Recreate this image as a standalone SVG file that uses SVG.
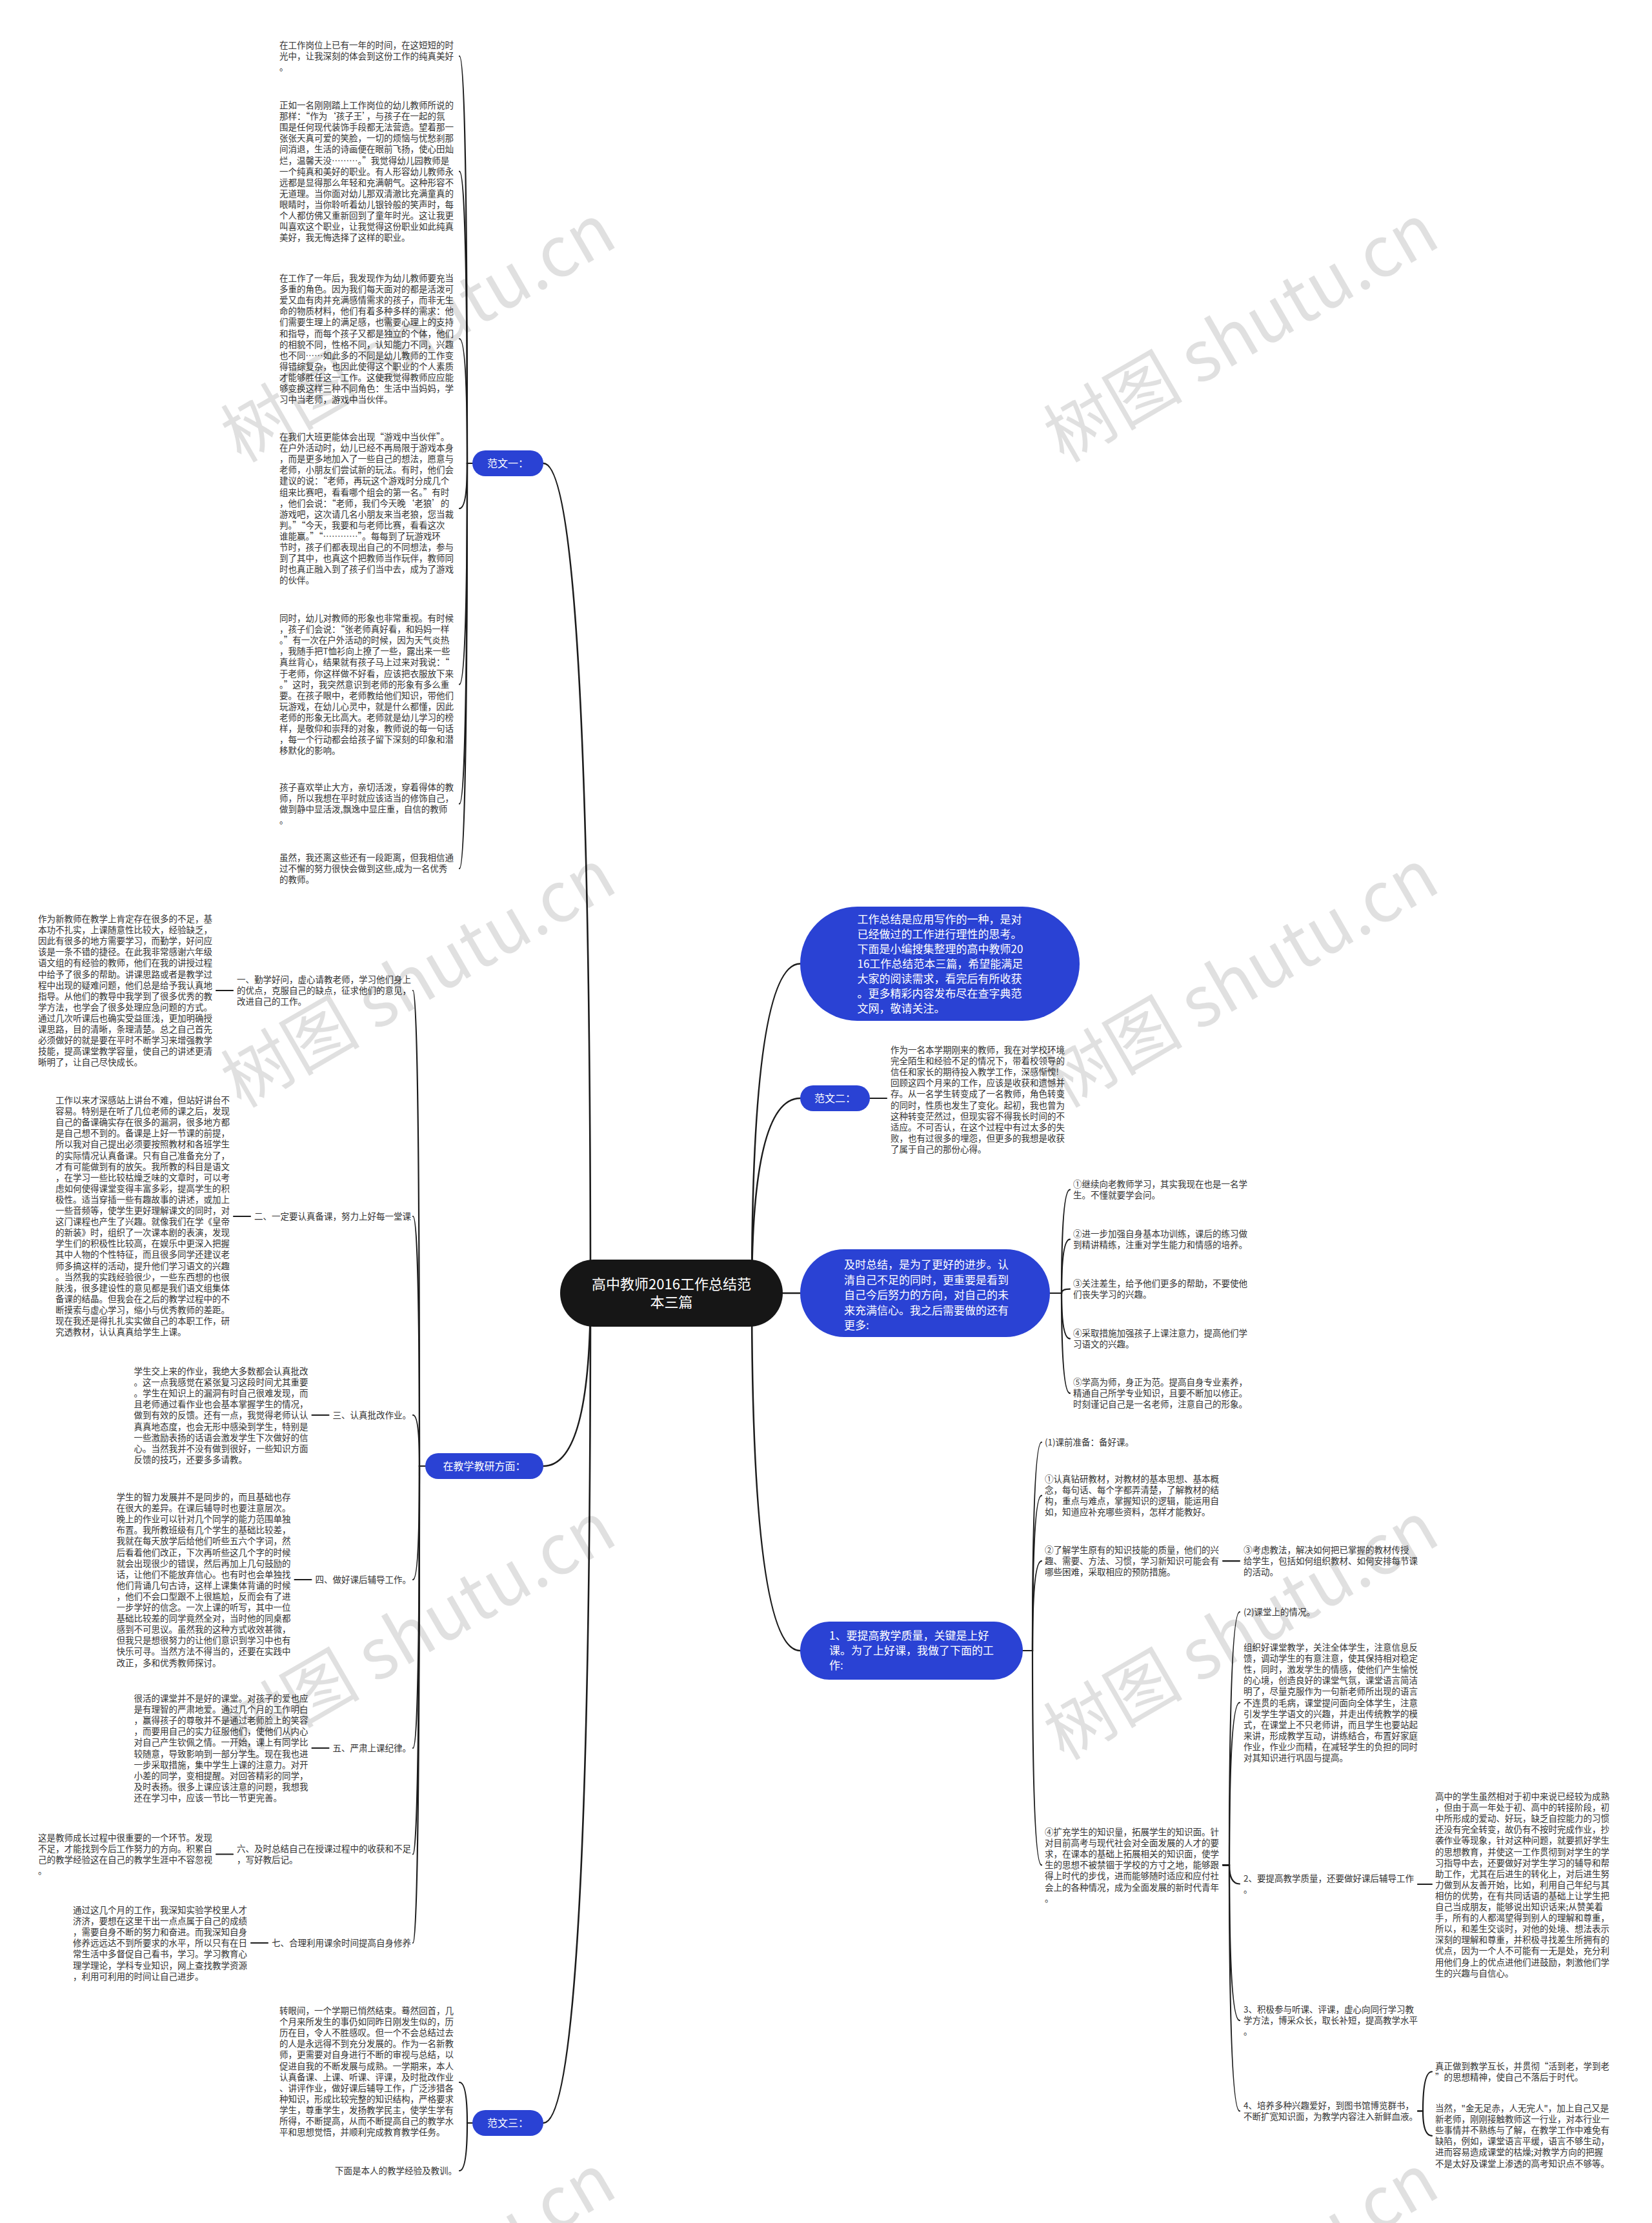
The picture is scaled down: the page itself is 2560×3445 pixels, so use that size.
<svg xmlns="http://www.w3.org/2000/svg" width="2560" height="3445" viewBox="0 0 2560 3445">
<style>
.t{font-family:"Noto Sans CJK SC","Noto Sans",sans-serif;font-size:13.5px;fill:#333}
.w{font-family:"Noto Sans CJK SC","Noto Sans",sans-serif;fill:#fff}
.c{fill:none;stroke:#1c1c1c;stroke-width:2.2;stroke-linecap:round}
.c2{fill:none;stroke:#1c1c1c;stroke-width:2.6;stroke-linecap:round}
.b{fill:#2a42d4}
.wm{font-family:"Noto Sans CJK SC","Noto Sans",sans-serif;font-size:108px;fill:#000;fill-opacity:.12}
</style>
<rect width="2560" height="3445" fill="#fff"/>
<g id="connectors">
<path class="c2" d="M915 2004 Q915 718 842 718"/>
<path class="c2" d="M915 2004 Q915 2272 842 2272"/>
<path class="c2" d="M915 2004 Q915 3290 842 3290"/>
<path class="c2" d="M1165 2004 Q1165 1493.5 1240 1493.5"/>
<path class="c2" d="M1165 2004 Q1165 1702 1240 1702"/>
<path class="c2" d="M1165 2004 L1240 2004"/>
<path class="c2" d="M1165 2004 Q1165 2558 1240 2558"/>
<path class="c" d="M732 718 H724 Q724 87 712 87"/>
<path class="c" d="M732 718 H724 Q724 265.6 712 265.6"/>
<path class="c" d="M732 718 H724 Q724 525 712 525"/>
<path class="c" d="M732 718 H724 Q724 788 712 788"/>
<path class="c" d="M732 718 H724 Q724 1060.6 712 1060.6"/>
<path class="c" d="M732 718 H724 Q724 1245.7 712 1245.7"/>
<path class="c" d="M732 718 H724 Q724 1346 712 1346"/>
<path class="c" d="M732 3290 H724 Q724 3227 712 3227"/>
<path class="c" d="M732 3290 H724 Q724 3364 712 3364"/>
<path class="c" d="M659 2272 H650 Q650 1535 640 1535"/>
<path class="c" d="M659 2272 H650 Q650 1885 640 1885"/>
<path class="c" d="M659 2272 H650 Q650 2193 640 2193"/>
<path class="c" d="M659 2272 H650 Q650 2448 640 2448"/>
<path class="c" d="M659 2272 H650 Q650 2709 640 2709"/>
<path class="c" d="M659 2272 H650 Q650 2873.5 640 2873.5"/>
<path class="c" d="M659 2272 H650 Q650 3011 640 3011"/>
<path class="c" d="M335 1535 H361"/>
<path class="c" d="M362 1885 H388"/>
<path class="c" d="M483.5 2193 H509.5"/>
<path class="c" d="M456.5 2448 H482.5"/>
<path class="c" d="M483.5 2709 H509.5"/>
<path class="c" d="M335 2873.5 H361"/>
<path class="c" d="M389 3011 H415"/>
<path class="c" d="M1348 1702 H1374"/>
<path class="c" d="M1627 2004 H1645 Q1645 1843.6 1658 1843.6"/>
<path class="c" d="M1627 2004 H1645 Q1645 1920.6 1658 1920.6"/>
<path class="c" d="M1627 2004 H1645 Q1645 1997.6 1658 1997.6"/>
<path class="c" d="M1627 2004 H1645 Q1645 2074.6 1658 2074.6"/>
<path class="c" d="M1627 2004 H1645 Q1645 2159.1 1658 2159.1"/>
<path class="c" d="M1585 2558 H1600 Q1600 2235 1614 2235"/>
<path class="c" d="M1585 2558 H1600 Q1600 2317.7 1614 2317.7"/>
<path class="c" d="M1585 2558 H1600 Q1600 2419.1 1614 2419.1"/>
<path class="c" d="M1585 2558 H1600 Q1600 2890.3 1614 2890.3"/>
<path class="c" d="M1895 2419.1 H1921"/>
<path class="c" d="M1895 2890.3 H1905 Q1905 2498 1921 2498"/>
<path class="c" d="M1895 2890.3 H1905 Q1905 2638.5 1921 2638.5"/>
<path class="c" d="M1895 2890.3 H1905 Q1905 2919.5 1921 2919.5"/>
<path class="c" d="M1895 2890.3 H1905 Q1905 3131.1 1921 3131.1"/>
<path class="c" d="M1895 2890.3 H1905 Q1905 3271.5 1921 3271.5"/>
<path class="c" d="M2197 2920 H2219"/>
<path class="c" d="M2197 3271.5 H2205 Q2205 3210.5 2219 3210.5"/>
<path class="c" d="M2197 3271.5 H2205 Q2205 3309.8 2219 3309.8"/>
</g>
<g id="root">
<rect x="868" y="1952" width="345" height="104" rx="52" fill="#161616"/>
<text class="w" font-size="22" text-anchor="middle" x="1040.5" y="1998">高中教师2016工作总结范<tspan x="1040.5" dy="28">本三篇</tspan></text>
</g>
<g id="n-fanwen1">
<rect class="b" x="732" y="698" width="110" height="40" rx="20"/>
<text class="w" font-size="16" text-anchor="middle" x="787" y="724">范文一：</text>
</g>
<g id="n-jiaoxue">
<rect class="b" x="659" y="2252" width="183" height="40" rx="20"/>
<text class="w" font-size="16" text-anchor="middle" x="750.5" y="2278">在教学教研方面：</text>
</g>
<g id="n-fanwen3">
<rect class="b" x="732" y="3270" width="110" height="40" rx="20"/>
<text class="w" font-size="16" text-anchor="middle" x="787" y="3296">范文三：</text>
</g>
<g id="n-summary">
<rect class="b" x="1240" y="1405" width="433" height="177" rx="88.5"/>
<text class="w" font-size="17" x="1328.5" y="1431"><tspan x="1328.5">工作总结是应用写作的一种，是对</tspan><tspan x="1328.5" dy="23">已经做过的工作进行理性的思考。</tspan><tspan x="1328.5" dy="23">下面是小编搜集整理的高中教师20</tspan><tspan x="1328.5" dy="23">16工作总结范本三篇，希望能满足</tspan><tspan x="1328.5" dy="23">大家的阅读需求，看完后有所收获</tspan><tspan x="1328.5" dy="23">。更多精彩内容发布尽在查字典范</tspan><tspan x="1328.5" dy="23">文网，敬请关注。</tspan></text>
</g>
<g id="n-fanwen2">
<rect class="b" x="1240" y="1682" width="108" height="40" rx="20"/>
<text class="w" font-size="16" text-anchor="middle" x="1294" y="1708">范文二：</text>
</g>
<g id="n-jishi">
<rect class="b" x="1240" y="1936" width="387" height="136" rx="68"/>
<text class="w" font-size="17" x="1308" y="1966"><tspan x="1308">及时总结，是为了更好的进步。认</tspan><tspan x="1308" dy="23.5">清自己不足的同时，更重要是看到</tspan><tspan x="1308" dy="23.5">自己今后努力的方向，对自己的未</tspan><tspan x="1308" dy="23.5">来充满信心。我之后需要做的还有</tspan><tspan x="1308" dy="23.5">更多:</tspan></text>
</g>
<g id="n-tigao">
<rect class="b" x="1240" y="2513" width="345" height="90" rx="45"/>
<text class="w" font-size="17" x="1285" y="2541"><tspan x="1285">1、要提高教学质量，关键是上好</tspan><tspan x="1285" dy="23">课。为了上好课，我做了下面的工</tspan><tspan x="1285" dy="23">作:</tspan></text>
</g>
<g id="leaf-f1-1"><text class="t" x="433" y="75"><tspan x="433">在工作岗位上已有一年的时间，在这短短的时</tspan><tspan x="433" dy="17.1">光中，让我深刻的体会到这份工作的纯真美好</tspan><tspan x="433" dy="17.1">。</tspan></text></g>
<g id="leaf-f1-2"><text class="t" x="433" y="168"><tspan x="433">正如一名刚刚踏上工作岗位的幼儿教师所说的</tspan><tspan x="433" dy="17.1">那样：“作为‘孩子王’，与孩子在一起的氛</tspan><tspan x="433" dy="17.1">围是任何现代装饰手段都无法营造。望着那一</tspan><tspan x="433" dy="17.1">张张天真可爱的笑脸，一切的烦恼与忧愁刹那</tspan><tspan x="433" dy="17.1">间消退，生活的诗画便在眼前飞扬，使心田灿</tspan><tspan x="433" dy="17.1">烂，温馨天没………。”我觉得幼儿园教师是</tspan><tspan x="433" dy="17.1">一个纯真和美好的职业。有人形容幼儿教师永</tspan><tspan x="433" dy="17.1">远都是显得那么年轻和充满朝气。这种形容不</tspan><tspan x="433" dy="17.1">无道理。当你面对幼儿那双清澈比充满童真的</tspan><tspan x="433" dy="17.1">眼睛时，当你聆听着幼儿银铃般的笑声时，每</tspan><tspan x="433" dy="17.1">个人都仿佛又重新回到了童年时光。这让我更</tspan><tspan x="433" dy="17.1">叫喜欢这个职业，让我觉得这份职业如此纯真</tspan><tspan x="433" dy="17.1">美好，我无悔选择了这样的职业。</tspan></text></g>
<g id="leaf-f1-3"><text class="t" x="433" y="436"><tspan x="433">在工作了一年后，我发现作为幼儿教师要充当</tspan><tspan x="433" dy="17.1">多重的角色。因为我们每天面对的都是活泼可</tspan><tspan x="433" dy="17.1">爱又血有肉并充满感情需求的孩子，而非无生</tspan><tspan x="433" dy="17.1">命的物质材料，他们有着多种多样的需求：他</tspan><tspan x="433" dy="17.1">们需要生理上的满足感，也需要心理上的支持</tspan><tspan x="433" dy="17.1">和指导，而每个孩子又都是独立的个体，他们</tspan><tspan x="433" dy="17.1">的相貌不同，性格不同，认知能力不同，兴趣</tspan><tspan x="433" dy="17.1">也不同……如此多的不同是幼儿教师的工作变</tspan><tspan x="433" dy="17.1">得错综复杂，也因此使得这个职业的个人素质</tspan><tspan x="433" dy="17.1">才能够胜任这一工作。这使我觉得教师应应能</tspan><tspan x="433" dy="17.1">够变换这样三种不同角色：生活中当妈妈，学</tspan><tspan x="433" dy="17.1">习中当老师，游戏中当伙伴。</tspan></text></g>
<g id="leaf-f1-4"><text class="t" x="433" y="682"><tspan x="433">在我们大班更能体会出现“游戏中当伙伴”。</tspan><tspan x="433" dy="17.1">在户外活动时，幼儿已经不再局限于游戏本身</tspan><tspan x="433" dy="17.1">，而是更多地加入了一些自己的想法，愿意与</tspan><tspan x="433" dy="17.1">老师，小朋友们尝试新的玩法。有时，他们会</tspan><tspan x="433" dy="17.1">建议的说：“老师，再玩这个游戏时分成几个</tspan><tspan x="433" dy="17.1">组来比赛吧，看看哪个组会的第一名。”有时</tspan><tspan x="433" dy="17.1">，他们会说：“老师，我们今天晚‘老狼’的</tspan><tspan x="433" dy="17.1">游戏吧，这次请几名小朋友来当老狼，您当裁</tspan><tspan x="433" dy="17.1">判。”“今天，我要和与老师比赛，看看这次</tspan><tspan x="433" dy="17.1">谁能赢。”“…………”。每每到了玩游戏环</tspan><tspan x="433" dy="17.1">节时，孩子们都表现出自己的不同想法，参与</tspan><tspan x="433" dy="17.1">到了其中，也真这个把教师当作玩伴，教师同</tspan><tspan x="433" dy="17.1">时也真正融入到了孩子们当中去，成为了游戏</tspan><tspan x="433" dy="17.1">的伙伴。</tspan></text></g>
<g id="leaf-f1-5"><text class="t" x="433" y="963"><tspan x="433">同时，幼儿对教师的形象也非常重视。有时候</tspan><tspan x="433" dy="17.1">，孩子们会说：“张老师真好看，和妈妈一样</tspan><tspan x="433" dy="17.1">。”有一次在户外活动的时候，因为天气炎热</tspan><tspan x="433" dy="17.1">，我随手把T恤衫向上撩了一些，露出来一些</tspan><tspan x="433" dy="17.1">真丝背心，结果就有孩子马上过来对我说：“</tspan><tspan x="433" dy="17.1">于老师，你这样做不好看，应该把衣服放下来</tspan><tspan x="433" dy="17.1">。”这时，我突然意识到老师的形象有多么重</tspan><tspan x="433" dy="17.1">要。在孩子眼中，老师教给他们知识，带他们</tspan><tspan x="433" dy="17.1">玩游戏，在幼儿心灵中，就是什么都懂，因此</tspan><tspan x="433" dy="17.1">老师的形象无比高大。老师就是幼儿学习的榜</tspan><tspan x="433" dy="17.1">样，是敬仰和崇拜的对象，教师说的每一句话</tspan><tspan x="433" dy="17.1">，每一个行动都会给孩子留下深刻的印象和潜</tspan><tspan x="433" dy="17.1">移默化的影响。</tspan></text></g>
<g id="leaf-f1-6"><text class="t" x="433" y="1225"><tspan x="433">孩子喜欢举止大方，亲切活泼，穿着得体的教</tspan><tspan x="433" dy="17.1">师，所以我想在平时就应该适当的修饰自己，</tspan><tspan x="433" dy="17.1">做到静中显活泼,飘逸中显庄重，自信的教师</tspan><tspan x="433" dy="17.1">。</tspan></text></g>
<g id="leaf-f1-7"><text class="t" x="433" y="1334"><tspan x="433">虽然，我还离这些还有一段距离，但我相信通</tspan><tspan x="433" dy="17.1">过不懈的努力很快会做到这些,成为一名优秀</tspan><tspan x="433" dy="17.1">的教师。</tspan></text></g>
<g id="leaf-j1"><text class="t" x="59" y="1429"><tspan x="59">作为新教师在教学上肯定存在很多的不足，基</tspan><tspan x="59" dy="17.1">本功不扎实，上课随意性比较大，经验缺乏，</tspan><tspan x="59" dy="17.1">因此有很多的地方需要学习，而勤学，好问应</tspan><tspan x="59" dy="17.1">该是一条不错的捷径。在此我非常感谢六年级</tspan><tspan x="59" dy="17.1">语文组的有经验的教师，他们在我的讲授过程</tspan><tspan x="59" dy="17.1">中给予了很多的帮助。讲课思路或者是教学过</tspan><tspan x="59" dy="17.1">程中出现的疑难问题，他们总是给予我认真地</tspan><tspan x="59" dy="17.1">指导。从他们的教导中我学到了很多优秀的教</tspan><tspan x="59" dy="17.1">学方法，也学会了很多处理应急问题的方式。</tspan><tspan x="59" dy="17.1">通过几次听课后也确实受益匪浅，更加明确授</tspan><tspan x="59" dy="17.1">课思路，目的清晰，条理清楚。总之自己首先</tspan><tspan x="59" dy="17.1">必须做好的就是要在平时不断学习来增强教学</tspan><tspan x="59" dy="17.1">技能，提高课堂教学容量，使自己的讲述更清</tspan><tspan x="59" dy="17.1">晰明了，让自己尽快成长。</tspan></text></g>
<g id="label-j1"><text class="t" x="367" y="1523"><tspan x="367">一、勤学好问，虚心请教老师，学习他们身上</tspan><tspan x="367" dy="17.1">的优点，克服自己的缺点，征求他们的意见，</tspan><tspan x="367" dy="17.1">改进自己的工作。</tspan></text></g>
<g id="leaf-j2"><text class="t" x="86" y="1710"><tspan x="86">工作以来才深感站上讲台不难，但站好讲台不</tspan><tspan x="86" dy="17.1">容易。特别是在听了几位老师的课之后，发现</tspan><tspan x="86" dy="17.1">自己的备课确实存在很多的漏洞，很多地方都</tspan><tspan x="86" dy="17.1">是自己想不到的。备课是上好一节课的前提，</tspan><tspan x="86" dy="17.1">所以我对自己提出必须要按照教材和各班学生</tspan><tspan x="86" dy="17.1">的实际情况认真备课。只有自己准备充分了，</tspan><tspan x="86" dy="17.1">才有可能做到有的放矢。我所教的科目是语文</tspan><tspan x="86" dy="17.1">，在学习一些比较枯燥乏味的文章时，可以考</tspan><tspan x="86" dy="17.1">虑如何使得课堂变得丰富多彩，提高学生的积</tspan><tspan x="86" dy="17.1">极性。适当穿插一些有趣故事的讲述，或加上</tspan><tspan x="86" dy="17.1">一些音频等，使学生更好理解课文的同时，对</tspan><tspan x="86" dy="17.1">这门课程也产生了兴趣。就像我们在学《皇帝</tspan><tspan x="86" dy="17.1">的新装》时，组织了一次课本剧的表演，发现</tspan><tspan x="86" dy="17.1">学生们的积极性比较高，在娱乐中更深入把握</tspan><tspan x="86" dy="17.1">其中人物的个性特征，而且很多同学还建议老</tspan><tspan x="86" dy="17.1">师多搞这样的活动，提升他们学习语文的兴趣</tspan><tspan x="86" dy="17.1">。当然我的实践经验很少，一些东西想的也很</tspan><tspan x="86" dy="17.1">肤浅，很多建设性的意见都是我们语文组集体</tspan><tspan x="86" dy="17.1">备课的结晶。但我会在之后的教学过程中的不</tspan><tspan x="86" dy="17.1">断摸索与虚心学习，缩小与优秀教师的差距。</tspan><tspan x="86" dy="17.1">现在我还是得扎扎实实做自己的本职工作，研</tspan><tspan x="86" dy="17.1">究透教材，认认真真给学生上课。</tspan></text></g>
<g id="label-j2"><text class="t" x="394" y="1890">二、一定要认真备课，努力上好每一堂课</text></g>
<g id="leaf-j3"><text class="t" x="207.5" y="2130"><tspan x="207.5">学生交上来的作业，我绝大多数都会认真批改</tspan><tspan x="207.5" dy="17.1">。这一点我感觉在紧张复习这段时间尤其重要</tspan><tspan x="207.5" dy="17.1">。学生在知识上的漏洞有时自己很难发现，而</tspan><tspan x="207.5" dy="17.1">且老师通过看作业也会基本掌握学生的情况，</tspan><tspan x="207.5" dy="17.1">做到有效的反馈。还有一点，我觉得老师认认</tspan><tspan x="207.5" dy="17.1">真真地态度，也会无形中感染到学生，特别是</tspan><tspan x="207.5" dy="17.1">一些激励表扬的话语会激发学生下次做好的信</tspan><tspan x="207.5" dy="17.1">心。当然我并不没有做到很好，一些知识方面</tspan><tspan x="207.5" dy="17.1">反馈的技巧，还要多多请教。</tspan></text></g>
<g id="label-j3"><text class="t" x="515.5" y="2198">三、认真批改作业。</text></g>
<g id="leaf-j4"><text class="t" x="180.5" y="2325"><tspan x="180.5">学生的智力发展并不是同步的，而且基础也存</tspan><tspan x="180.5" dy="17.1">在很大的差异。在课后辅导时也要注意层次。</tspan><tspan x="180.5" dy="17.1">晚上的作业可以针对几个同学的能力范围单独</tspan><tspan x="180.5" dy="17.1">布置。我所教班级有几个学生的基础比较差，</tspan><tspan x="180.5" dy="17.1">我就在每天放学后给他们听些五六个字词，然</tspan><tspan x="180.5" dy="17.1">后看着他们改正，下次再听些这几个字的时候</tspan><tspan x="180.5" dy="17.1">就会出现很少的错误，然后再加上几句鼓励的</tspan><tspan x="180.5" dy="17.1">话，让他们不能放弃信心。也有时也会单独找</tspan><tspan x="180.5" dy="17.1">他们背诵几句古诗，这样上课集体背诵的时候</tspan><tspan x="180.5" dy="17.1">，他们不会口型跟不上很尴尬，反而会有了进</tspan><tspan x="180.5" dy="17.1">一步学好的信念。一次上课的听写，其中一位</tspan><tspan x="180.5" dy="17.1">基础比较差的同学竟然全对，当时他的同桌都</tspan><tspan x="180.5" dy="17.1">感到不可思议。虽然我的这种方式收效甚微，</tspan><tspan x="180.5" dy="17.1">但我只是想很努力的让他们意识到学习中也有</tspan><tspan x="180.5" dy="17.1">快乐可寻。当然方法不得当的，还要在实践中</tspan><tspan x="180.5" dy="17.1">改正，多和优秀教师探讨。</tspan></text></g>
<g id="label-j4"><text class="t" x="488.5" y="2453">四、做好课后辅导工作。</text></g>
<g id="leaf-j5"><text class="t" x="207.5" y="2637"><tspan x="207.5">很活的课堂并不是好的课堂。对孩子的爱也应</tspan><tspan x="207.5" dy="17.1">是有理智的严肃地爱。通过几个月的工作明白</tspan><tspan x="207.5" dy="17.1">，赢得孩子的尊敬并不是通过老师脸上的笑容</tspan><tspan x="207.5" dy="17.1">，而要用自己的实力征服他们，使他们从内心</tspan><tspan x="207.5" dy="17.1">对自己产生钦佩之情。一开始，课上有同学比</tspan><tspan x="207.5" dy="17.1">较随意，导致影响到一部分学生。现在我也进</tspan><tspan x="207.5" dy="17.1">一步采取措施，集中学生上课的注意力。对开</tspan><tspan x="207.5" dy="17.1">小差的同学，变相提醒。对回答精彩的同学，</tspan><tspan x="207.5" dy="17.1">及时表扬。很多上课应该注意的问题，我想我</tspan><tspan x="207.5" dy="17.1">还在学习中，应该一节比一节更完善。</tspan></text></g>
<g id="label-j5"><text class="t" x="515.5" y="2714">五、严肃上课纪律。</text></g>
<g id="leaf-j6"><text class="t" x="59" y="2853"><tspan x="59">这是教师成长过程中很重要的一个环节。发现</tspan><tspan x="59" dy="17.1">不足，才能找到今后工作努力的方向。积累自</tspan><tspan x="59" dy="17.1">己的教学经验这在自己的教学生涯中不容忽视</tspan><tspan x="59" dy="17.1">。</tspan></text></g>
<g id="label-j6"><text class="t" x="367" y="2870"><tspan x="367">六、及时总结自己在授课过程中的收获和不足</tspan><tspan x="367" dy="17.1">，写好教后记。</tspan></text></g>
<g id="leaf-j7"><text class="t" x="113" y="2965"><tspan x="113">通过这几个月的工作，我深知实验学校里人才</tspan><tspan x="113" dy="17.1">济济，要想在这里干出一点点属于自己的成绩</tspan><tspan x="113" dy="17.1">，需要自身不断的努力和奋进。而我深知自身</tspan><tspan x="113" dy="17.1">修养远远达不到所要求的水平，所以只有在日</tspan><tspan x="113" dy="17.1">常生活中多督促自己看书，学习。学习教育心</tspan><tspan x="113" dy="17.1">理学理论，学科专业知识，网上查找教学资源</tspan><tspan x="113" dy="17.1">，利用可利用的时间让自己进步。</tspan></text></g>
<g id="label-j7"><text class="t" x="421" y="3016">七、合理利用课余时间提高自身修养</text></g>
<g id="leaf-f3-1"><text class="t" x="433" y="3121"><tspan x="433">转眼间，一个学期已悄然结束。蓦然回首，几</tspan><tspan x="433" dy="17.1">个月来所发生的事仍如同昨日刚发生似的，历</tspan><tspan x="433" dy="17.1">历在目，令人不胜感叹。但一个不会总结过去</tspan><tspan x="433" dy="17.1">的人是永远得不到充分发展的。作为一名新教</tspan><tspan x="433" dy="17.1">师，更需要对自身进行不断的审视与总结，以</tspan><tspan x="433" dy="17.1">促进自我的不断发展与成熟。一学期来，本人</tspan><tspan x="433" dy="17.1">认真备课、上课、听课、评课，及时批改作业</tspan><tspan x="433" dy="17.1">、讲评作业，做好课后辅导工作，广泛涉猎各</tspan><tspan x="433" dy="17.1">种知识，形成比较完整的知识结构，严格要求</tspan><tspan x="433" dy="17.1">学生，尊重学生，发扬教学民主，使学生学有</tspan><tspan x="433" dy="17.1">所得，不断提高，从而不断提高自己的教学水</tspan><tspan x="433" dy="17.1">平和思想觉悟，并顺利完成教育教学任务。</tspan></text></g>
<g id="leaf-f3-2"><text class="t" x="519" y="3369">下面是本人的教学经验及教训。</text></g>
<g id="leaf-f2"><text class="t" x="1380" y="1632"><tspan x="1380">作为一名本学期刚来的教师，我在对学校环境</tspan><tspan x="1380" dy="17.1">完全陌生和经验不足的情况下，带着校领导的</tspan><tspan x="1380" dy="17.1">信任和家长的期待投入教学工作，深感惭愧!</tspan><tspan x="1380" dy="17.1">回顾这四个月来的工作，应该是收获和遗憾并</tspan><tspan x="1380" dy="17.1">存。从一名学生转变成了一名教师，角色转变</tspan><tspan x="1380" dy="17.1">的同时，性质也发生了变化。起初，我也曾为</tspan><tspan x="1380" dy="17.1">这种转变茫然过，但现实容不得我长时间的不</tspan><tspan x="1380" dy="17.1">适应。不可否认，在这个过程中有过太多的失</tspan><tspan x="1380" dy="17.1">败，也有过很多的埋怨，但更多的我想是收获</tspan><tspan x="1380" dy="17.1">了属于自己的那份心得。</tspan></text></g>
<g id="leaf-js1"><text class="t" x="1663" y="1840"><tspan x="1663">①继续向老教师学习，其实我现在也是一名学</tspan><tspan x="1663" dy="17.1">生。不懂就要学会问。</tspan></text></g>
<g id="leaf-js2"><text class="t" x="1663" y="1917"><tspan x="1663">②进一步加强自身基本功训练，课后的练习做</tspan><tspan x="1663" dy="17.1">到精讲精练，注重对学生能力和情感的培养。</tspan></text></g>
<g id="leaf-js3"><text class="t" x="1663" y="1994"><tspan x="1663">③关注差生，给予他们更多的帮助，不要使他</tspan><tspan x="1663" dy="17.1">们丧失学习的兴趣。</tspan></text></g>
<g id="leaf-js4"><text class="t" x="1663" y="2071"><tspan x="1663">④采取措施加强孩子上课注意力，提高他们学</tspan><tspan x="1663" dy="17.1">习语文的兴趣。</tspan></text></g>
<g id="leaf-js5"><text class="t" x="1663" y="2147"><tspan x="1663">⑤学高为师，身正为范。提高自身专业素养，</tspan><tspan x="1663" dy="17.1">精通自己所学专业知识，且要不断加以修正。</tspan><tspan x="1663" dy="17.1">时刻谨记自己是一名老师，注意自己的形象。</tspan></text></g>
<g id="leaf-tg1"><text class="t" x="1619" y="2240">(1)课前准备：备好课。</text></g>
<g id="leaf-tg2"><text class="t" x="1619" y="2297"><tspan x="1619">①认真钻研教材，对教材的基本思想、基本概</tspan><tspan x="1619" dy="17.1">念，每句话、每个字都弄清楚，了解教材的结</tspan><tspan x="1619" dy="17.1">构，重点与难点，掌握知识的逻辑，能运用自</tspan><tspan x="1619" dy="17.1">如，知道应补充哪些资料，怎样才能教好。</tspan></text></g>
<g id="leaf-tg3"><text class="t" x="1619" y="2407"><tspan x="1619">②了解学生原有的知识技能的质量，他们的兴</tspan><tspan x="1619" dy="17.1">趣、需要、方法、习惯，学习新知识可能会有</tspan><tspan x="1619" dy="17.1">哪些困难，采取相应的预防措施。</tspan></text></g>
<g id="leaf-tg3a"><text class="t" x="1927" y="2407"><tspan x="1927">③考虑教法，解决如何把已掌握的教材传授</tspan><tspan x="1927" dy="17.1">给学生，包括如何组织教材、如何安排每节课</tspan><tspan x="1927" dy="17.1">的活动。</tspan></text></g>
<g id="leaf-tg4"><text class="t" x="1619" y="2844"><tspan x="1619">④扩充学生的知识量，拓展学生的知识面。针</tspan><tspan x="1619" dy="17.1">对目前高考与现代社会对全面发展的人才的要</tspan><tspan x="1619" dy="17.1">求，在课本的基础上拓展相关的知识面，使学</tspan><tspan x="1619" dy="17.1">生的思想不被禁锢于学校的方寸之地，能够跟</tspan><tspan x="1619" dy="17.1">得上时代的步伐，进而能够随时适应和应付社</tspan><tspan x="1619" dy="17.1">会上的各种情况，成为全面发展的新时代青年</tspan><tspan x="1619" dy="17.1">。</tspan></text></g>
<g id="leaf-tg4a"><text class="t" x="1927" y="2503">(2)课堂上的情况。</text></g>
<g id="leaf-tg4b"><text class="t" x="1927" y="2558"><tspan x="1927">组织好课堂教学，关注全体学生，注意信息反</tspan><tspan x="1927" dy="17.1">馈，调动学生的有意注意，使其保持相对稳定</tspan><tspan x="1927" dy="17.1">性，同时，激发学生的情感，使他们产生愉悦</tspan><tspan x="1927" dy="17.1">的心境，创造良好的课堂气氛，课堂语言简洁</tspan><tspan x="1927" dy="17.1">明了，尽量克服作为一句新老师所出现的语言</tspan><tspan x="1927" dy="17.1">不连贯的毛病，课堂提问面向全体学生，注意</tspan><tspan x="1927" dy="17.1">引发学生学语文的兴趣，并走出传统教学的模</tspan><tspan x="1927" dy="17.1">式，在课堂上不只老师讲，而且学生也要站起</tspan><tspan x="1927" dy="17.1">来讲，形成教学互动，讲练结合，布置好家庭</tspan><tspan x="1927" dy="17.1">作业，作业少而精，在减轻学生的负担的同时</tspan><tspan x="1927" dy="17.1">对其知识进行巩固与提高。</tspan></text></g>
<g id="leaf-tg4c"><text class="t" x="1927" y="2916"><tspan x="1927">2、要提高教学质量，还要做好课后辅导工作</tspan><tspan x="1927" dy="17.1">。</tspan></text></g>
<g id="leaf-tg4c1"><text class="t" x="2224" y="2789"><tspan x="2224">高中的学生虽然相对于初中来说已经较为成熟</tspan><tspan x="2224" dy="17.1">，但由于高一年处于初、高中的转接阶段，初</tspan><tspan x="2224" dy="17.1">中所形成的爱动、好玩，缺乏自控能力的习惯</tspan><tspan x="2224" dy="17.1">还没有完全转变，故仍有不按时完成作业，抄</tspan><tspan x="2224" dy="17.1">袭作业等现象，针对这种问题，就要抓好学生</tspan><tspan x="2224" dy="17.1">的思想教育，并使这一工作贯彻到对学生的学</tspan><tspan x="2224" dy="17.1">习指导中去，还要做好对学生学习的辅导和帮</tspan><tspan x="2224" dy="17.1">助工作，尤其在后进生的转化上，对后进生努</tspan><tspan x="2224" dy="17.1">力做到从友善开始，比如，利用自己年纪与其</tspan><tspan x="2224" dy="17.1">相仿的优势，在有共同话语的基础上让学生把</tspan><tspan x="2224" dy="17.1">自己当成朋友，能够说出知识话来;从赞美着</tspan><tspan x="2224" dy="17.1">手，所有的人都渴望得到别人的理解和尊重，</tspan><tspan x="2224" dy="17.1">所以，和差生交谈时，对他的处境、想法表示</tspan><tspan x="2224" dy="17.1">深刻的理解和尊重，并积极寻找差生所拥有的</tspan><tspan x="2224" dy="17.1">优点，因为一个人不可能有一无是处，充分利</tspan><tspan x="2224" dy="17.1">用他们身上的优点进他们进鼓励，刺激他们学</tspan><tspan x="2224" dy="17.1">生的兴趣与自信心。</tspan></text></g>
<g id="leaf-tg4d"><text class="t" x="1927" y="3119"><tspan x="1927">3、积极参与听课、评课，虚心向同行学习教</tspan><tspan x="1927" dy="17.1">学方法，博采众长，取长补短，提高教学水平</tspan><tspan x="1927" dy="17.1">。</tspan></text></g>
<g id="leaf-tg4e"><text class="t" x="1927" y="3268"><tspan x="1927">4、培养多种兴趣爱好，到图书馆博览群书，</tspan><tspan x="1927" dy="17.1">不断扩宽知识面，为教学内容注入新鲜血液。</tspan></text></g>
<g id="leaf-tg4e1"><text class="t" x="2224" y="3207"><tspan x="2224">真正做到教学互长，并贯彻“活到老，学到老</tspan><tspan x="2224" dy="17.1">”的思想精神，使自己不落后于时代。</tspan></text></g>
<g id="leaf-tg4e2"><text class="t" x="2224" y="3272"><tspan x="2224">当然，"金无足赤，人无完人"，加上自己又是</tspan><tspan x="2224" dy="17.1">新老师，刚刚接触教师这一行业，对本行业一</tspan><tspan x="2224" dy="17.1">些事情并不熟练与了解，在教学工作中难免有</tspan><tspan x="2224" dy="17.1">缺陷，例如，课堂语言平缓，语言不够生动，</tspan><tspan x="2224" dy="17.1">进而容易造成课堂的枯燥;对教学方向的把握</tspan><tspan x="2224" dy="17.1">不是太好及课堂上渗透的高考知识点不够等。</tspan></text></g>
<g id="watermarks">
<text class="wm" text-anchor="middle" transform="translate(648 516) rotate(-30)" y="38">树图 shutu.cn</text>
<text class="wm" text-anchor="middle" transform="translate(1923 516) rotate(-30)" y="38">树图 shutu.cn</text>
<text class="wm" text-anchor="middle" transform="translate(648 1516) rotate(-30)" y="38">树图 shutu.cn</text>
<text class="wm" text-anchor="middle" transform="translate(1923 1516) rotate(-30)" y="38">树图 shutu.cn</text>
<text class="wm" text-anchor="middle" transform="translate(648 2527) rotate(-30)" y="38">树图 shutu.cn</text>
<text class="wm" text-anchor="middle" transform="translate(1923 2527) rotate(-30)" y="38">树图 shutu.cn</text>
<text class="wm" text-anchor="middle" transform="translate(648 3538) rotate(-30)" y="38">树图 shutu.cn</text>
<text class="wm" text-anchor="middle" transform="translate(1923 3538) rotate(-30)" y="38">树图 shutu.cn</text>
</g>
</svg>
